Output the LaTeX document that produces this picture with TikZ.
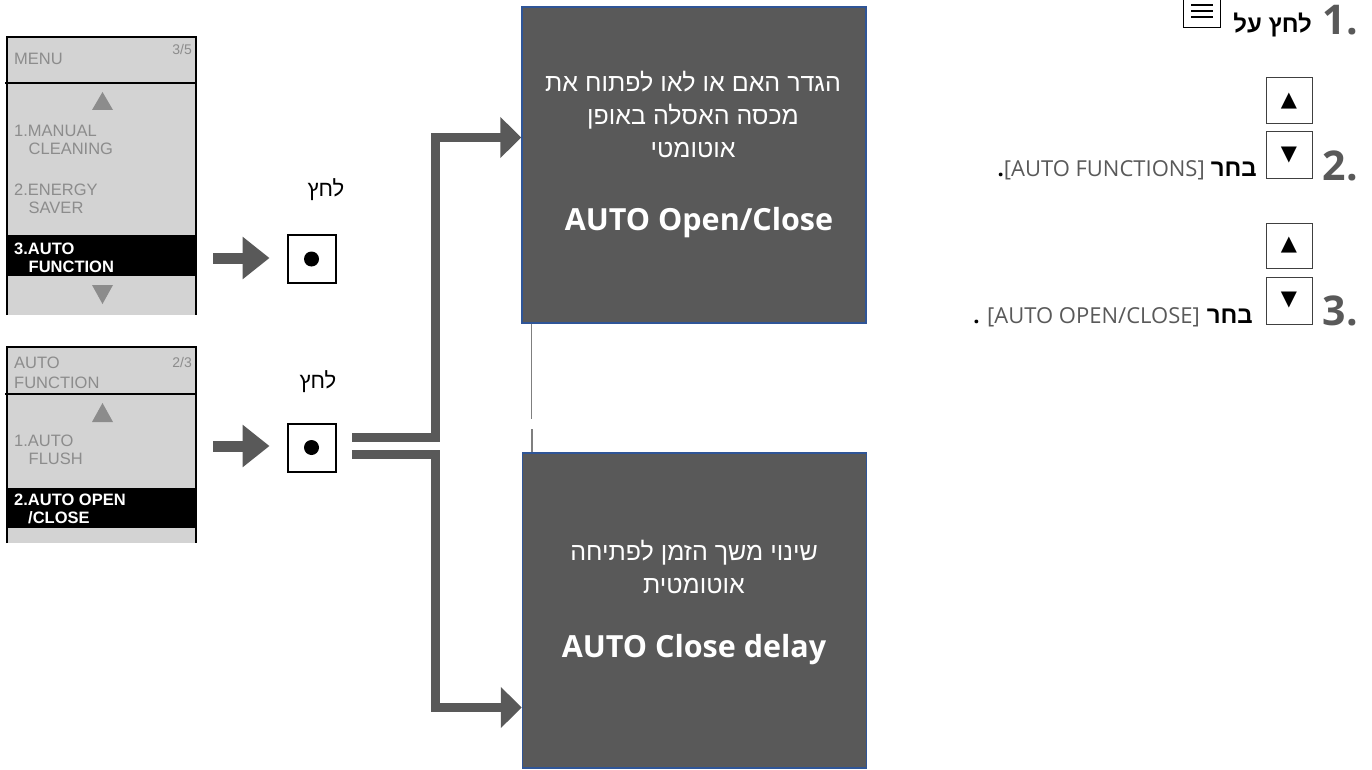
\documentclass[tikz,border=0pt]{standalone}
\usepackage{fontspec}
\setmainfont{Open Sans}
\newfontfamily\hebfont[Script=Hebrew]{Liberation Sans}
\newfontfamily\menufont{Liberation Sans}
\newfontfamily\symfont{DejaVu Sans}
\TeXXeTstate=1
\usetikzlibrary{arrows.meta,positioning,calc}
\definecolor{panelgray}{HTML}{595959}
\definecolor{panelblue}{HTML}{2F5597}
\definecolor{menubg}{HTML}{D3D3D3}
\definecolor{menutext}{HTML}{8C8C8C}
\definecolor{linkgray}{HTML}{7F7F7F}

\begin{document}
\begin{tikzpicture}
    [x=1pt, y=-1pt,
    panel/.style={draw=panelblue, line width=1.5pt, fill=panelgray,
        minimum width=344pt, minimum height=316pt, inner sep=0pt},
    paneltext/.style={text=white, align=center, inner sep=0pt,
        font=\hebfont\fontsize{25}{33}\selectfont},
    paneltitle/.style={text=white, inner sep=0pt,
        font=\bfseries\fontsize{30.5}{36}\selectfont},
    menuitem/.style={anchor=base west, inner sep=0pt, text=menutext,
        font=\menufont\fontsize{16.5}{18}\selectfont},
    menusel/.style={menuitem, text=white, font=\menufont\bfseries\fontsize{16.5}{18}\selectfont},
    menupage/.style={anchor=base east, inner sep=0pt, text=menutext,
        font=\menufont\fontsize{14}{16}\selectfont},
    menuframe/.style={line width=1.5pt, black},
    menutri/.style={fill=menutext},
    btn/.style={draw, line width=2pt, minimum size=48pt, inner sep=0pt},
    dot/.style={circle, fill=black, minimum size=15pt, inner sep=0pt},
    presslbl/.style={inner sep=0pt, font=\hebfont\fontsize{22}{26}\selectfont},
    push/.style={panelgray, line width=11pt, -{Triangle[length=27pt, width=41pt]}},
    pipe/.style={panelgray, line width=9pt, miter limit=10, line join=miter,
        -{Triangle[length=21pt, width=40pt]}},
    linkline/.style={linkgray, line width=1.5pt},
    stepnum/.style={anchor=base east, inner sep=0pt, text=panelgray,
        font=\bfseries\fontsize{41}{46}\selectfont},
    stepheb/.style={anchor=base east, inner sep=0pt,
        font=\hebfont\bfseries\fontsize{24}{28}\selectfont},
    steptext/.style={anchor=base east, inner sep=0pt, text=panelgray,
        font=\fontsize{22}{26}\selectfont},
    keybox/.style={draw=black!75, line width=1pt, minimum size=46pt, inner sep=0pt,
        font=\symfont\fontsize{21}{24}\selectfont}]
    \useasboundingbox (0,0) rectangle (1372,770);

    %% Menu screen 1
    \fill[menubg] (7,37) rectangle (196,315);
    \fill[black] (7,235) rectangle (196,276);
    \draw[menuframe] (7,315) -- (7,37) -- (196,37) -- (196,315);
    \draw[menuframe] (5,83) -- (197,83);
    \fill[menutri] (92,110) -- (102.5,92) -- (113,110) -- cycle;
    \fill[menutri] (92,285) -- (102.5,304) -- (113,285) -- cycle;
    \node[menuitem] (mTitle) at (14,65) {MENU};
    \node[menupage] (mPage) at (192,55) {3/5};
    \node[menuitem] (mOneA) at (14,137) {1.MANUAL};
    \node[menuitem] (mOneB) at (28.5,155) {CLEANING};
    \node[menuitem] (mTwoA) at (14,195) {2.ENERGY};
    \node[menuitem] (mTwoB) at (28.5,213) {SAVER};
    \node[menusel] (mThreeA) at (14,254) {3.AUTO};
    \node[menusel] (mThreeB) at (28.5,272) {FUNCTION};

    %% Menu screen 2
    \fill[menubg] (7,347) rectangle (196,543);
    \fill[black] (7,488) rectangle (196,528);
    \draw[menuframe] (7,543) -- (7,347) -- (196,347) -- (196,543);
    \draw[menuframe] (5,394) -- (197,394);
    \fill[menutri] (92,422) -- (102.5,403) -- (113,422) -- cycle;
    \node[menuitem] (fTitleA) at (14,368) {AUTO};
    \node[menuitem] (fTitleB) at (14,388) {FUNCTION};
    \node[menupage] (fPage) at (192,367) {2/3};
    \node[menuitem] (fOneA) at (14,446) {1.AUTO};
    \node[menuitem] (fOneB) at (28.5,464) {FLUSH};
    \node[menusel] (fTwoA) at (14,505) {2.AUTO OPEN};
    \node[menusel] (fTwoB) at (28,523) {/CLOSE};

    %% Press buttons
    \node[btn] (btnA) at (311.5,259) {};
    \node[dot] (dotA) at (btnA) {};
    \node[presslbl] (pressA) at (326,190) {\beginR לחץ\endR};
    \node[btn] (btnB) at (311.5,447.5) {};
    \node[dot] (dotB) at (btnB) {};
    \node[presslbl] (pressB) at (318,382) {\beginR לחץ\endR};
    \coordinate (inA) at (213,258);
    \coordinate (inB) at (213,446);
    \draw[push] (inA) -- ([xshift=-17pt]btnA.west |- inA);
    \draw[push] (inB) -- ([xshift=-17pt]btnB.west |- inB);

    %% Result panels
    \node[panel] (boxOpen) at (694,165) {};
    \node[paneltext] (openHe) at (693,114) {\beginR הגדר האם או לאו לפתוח את\endR\\
        \beginR מכסה האסלה באופן\endR\\ \beginR אוטומטי\endR};
    \node[paneltitle] (openTitle) at (699,223) {AUTO Open/Close};
    \node[panel, minimum height=315pt] (boxDelay) at (694.5,610.5) {};
    \node[paneltext] (delayHe) at (694,567) {\beginR שינוי משך הזמן לפתיחה\endR\\
        \beginR אוטומטית\endR};
    \node[paneltitle] (delayTitle) at (694,650) {AUTO Close delay};
    \draw[linkline] ([xshift=10pt]boxOpen.south west) -- ++(0,95);
    \draw[linkline] ([xshift=10pt]boxDelay.north west) -- ++(0,-23);

    %% Split connectors
    \coordinate (outA) at (352,437.5);
    \coordinate (outB) at (352,454);
    \coordinate (bendA) at (435,137.5);
    \coordinate (bendB) at (435,707.5);
    \draw[pipe] (outA) -| (bendA) -- (boxOpen.west |- bendA);
    \draw[pipe] (outB) -| (bendB) -- (boxDelay.west |- bendB);

    %% Steps
    \node[stepnum] (stepOne) at (1358,35) {1.};
    \node[stepheb] (stepOneHe) at (1312,33) {\beginR לחץ על\endR};
    \node[draw, line width=1pt, minimum width=37pt, minimum height=32pt, inner sep=0pt]
        (menuKey) at (1201.5,12) {};
    \foreach \y in {5,11,17}
        \draw[line width=2pt] (1191,\y) -- (1213,\y);

    \node[keybox] (upA) at (1289,101) {▲};
    \node[keybox, minimum height=47pt] (downA) at (1289,155.5) {▼};
    \node[stepnum] (stepTwo) at (1358,180) {2.};
    \node[stepheb] (stepTwoHe) at (1257,177) {\beginR בחר\endR};
    \node[steptext] (stepTwoTxt) at (1205,177) {{\color{black}\bfseries .}[AUTO FUNCTIONS]};

    \node[keybox, minimum height=45pt] (upB) at (1289,245.5) {▲};
    \node[keybox, minimum height=47pt] (downB) at (1289,300.5) {▼};
    \node[stepnum] (stepThree) at (1358,325) {3.};
    \node[stepheb] (stepThreeHe) at (1253,323) {\beginR בחר\endR};
    \node[steptext] (stepThreeTxt) at (1200,323) {{\color{black}\bfseries .} [AUTO OPEN/CLOSE]};
\end{tikzpicture}
\end{document}
